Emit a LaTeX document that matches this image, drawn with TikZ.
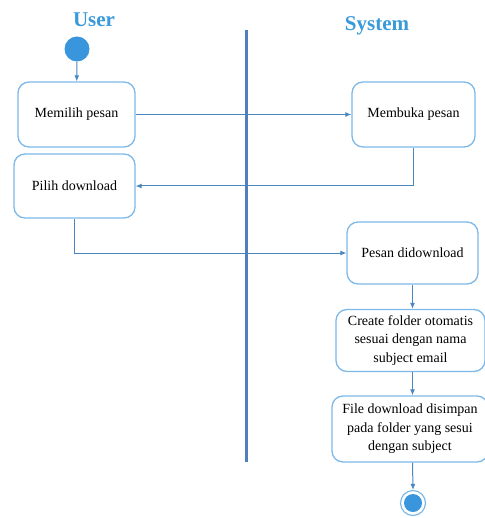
\documentclass[tikz,border=0pt]{standalone}
\usepackage{fontspec}
\setmainfont{Liberation Serif}
\usetikzlibrary{arrows.meta}
\definecolor{titleblue}{HTML}{3A9AD9}
\definecolor{boxblue}{HTML}{7DB9E8}
\definecolor{lineblue}{HTML}{4A86C0}
\definecolor{lanecol}{HTML}{4F7FBF}
\definecolor{dotblue}{HTML}{3A96DC}
\tikzset{
  actbox/.style={draw=boxblue, line width=1.3pt, rounded corners=11pt, fill=white,
    align=center, font=\fontsize{14}{18.5}\selectfont, inner sep=2pt},
  flow/.style={draw=lineblue, line width=1pt, -{Latex[length=6pt,width=5pt]}},
  lanetitle/.style={font=\fontsize{21}{24}\selectfont\bfseries, text=titleblue}
}
\begin{document}
\begin{tikzpicture}[x=1pt,y=-1pt]
\useasboundingbox (0,0) rectangle (484,518);
\node[lanetitle] (user) at (94,20) {User};
\node[lanetitle] (system) at (377,26) {System};
\draw[lanecol, line width=3pt] (246,30) coordinate (laneTop) -- (246,462) coordinate (laneBot);
\node[circle, fill=dotblue, minimum size=25pt, inner sep=0pt] (start) at (77,49) {};
\node[actbox, minimum width=117pt, minimum height=65pt] (memilih) at (76.5,114.5) {Memilih pesan};
\node[actbox, minimum width=121pt, minimum height=64pt] (pilih) at (74.5,186) {Pilih download};
\node[actbox, minimum width=123pt, minimum height=65pt] (membuka) at (413.5,114.5) {Membuka pesan};
\node[actbox, minimum width=131pt, minimum height=62pt] (pesan) at (412.5,253) {Pesan didownload};
\node[actbox, minimum width=149pt, minimum height=62pt] (create) at (410.5,340.5) {Create folder otomatis\\sesuai dengan nama\\subject email};
\node[actbox, minimum width=156pt, minimum height=66pt] (file) at (410,429) {File download disimpan\\pada folder yang sesui\\dengan subject};
\node[circle, draw=boxblue, line width=1.2pt, minimum size=25pt, inner sep=0pt] (endo) at (413,503) {};
\node[circle, fill=dotblue, minimum size=18pt, inner sep=0pt] (endi) at (413,503) {};
\draw[flow] (start) -- (memilih);
\draw[flow] (memilih) -- (membuka);
\draw[flow] (membuka.south) |- (pilih.east);
\draw[flow] (pilih.south) |- (pesan.west);
\draw[flow] (pesan.south) -- (pesan.south |- create.north);
\draw[flow] (create.south -| pesan.south) -- (pesan.south |- file.north);
\draw[flow] (file.south -| pesan.south) -- (endo.north);
\end{tikzpicture}
\end{document}
